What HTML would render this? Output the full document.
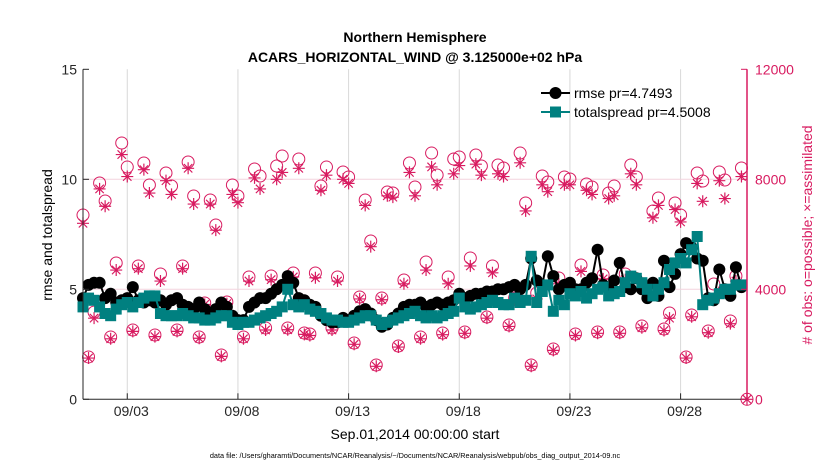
<!DOCTYPE html>
<html><head><meta charset="utf-8"><style>
body{margin:0;background:#fff;}
svg{display:block;font-family:"Liberation Sans",sans-serif;}
</style></head><body>
<svg id="chart" width="830" height="470" viewBox="0 0 830 470">
<rect width="830" height="470" fill="#fff"/>
<g id="grid"></g>
<g id="obs"></g>
<g id="lines"></g>
<g id="axes"></g>
<text x="415" y="42" text-anchor="middle" font-size="14" font-weight="bold">Northern Hemisphere</text>
<text x="415" y="62" text-anchor="middle" font-size="14" font-weight="bold">ACARS_HORIZONTAL_WIND @ 3.125000e+02 hPa</text>
<text transform="translate(52,235) rotate(-90)" text-anchor="middle" font-size="14">rmse and totalspread</text>
<text transform="translate(812,235) rotate(-90)" text-anchor="middle" font-size="14" fill="#d81b60"># of obs: o=possible; ×=assimilated</text>
<text x="415" y="439" text-anchor="middle" font-size="14">Sep.01,2014 00:00:00 start</text>
<text x="415" y="458" text-anchor="middle" font-size="7.3">data file: /Users/gharamti/Documents/NCAR/Reanalysis/~/Documents/NCAR/Reanalysis/webpub/obs_diag_output_2014-09.nc</text>
<g>
<g>
<line x1="541" y1="93" x2="570" y2="93" stroke="#000" stroke-width="2"/>
<circle cx="555.5" cy="93" r="6" fill="#000"/>
<text x="574" y="98" font-size="14">rmse pr=4.7493</text></g>
<g>
<line x1="541" y1="112" x2="570" y2="112" stroke="#008080" stroke-width="2"/>
<rect x="550" y="106.5" width="11" height="11" fill="#008080"/>
<text x="574" y="117" font-size="14">totalspread pr=4.5008</text></g>
</g>
</svg>
<script>
const rmse=[4.6,5.2,5.3,5.3,4.6,4.8,4.4,4.5,4.6,5.1,
4.5,4.4,4.5,4.4,4.5,4.3,4.5,4.6,4.3,4.2,
4.1,4.4,4.1,3.9,4.1,4.4,4.2,3.8,3.6,3.6,
4.2,4.4,4.6,4.6,4.8,5.0,5.2,5.6,5.3,4.6,
4.5,4.3,4.2,3.8,3.6,3.5,3.5,3.7,3.6,3.8,
4.0,4.1,3.9,3.6,3.3,3.4,3.7,3.9,4.2,4.3,
4.3,4.4,4.2,4.3,4.4,4.3,4.4,4.5,4.8,4.6,
4.7,4.8,4.8,4.9,4.9,5.0,5.0,5.1,5.2,5.0,
5.2,6.4,5.4,5.2,6.5,5.6,5.0,5.2,5.3,5.0,
5.0,5.3,5.5,6.8,5.2,5.0,5.4,6.2,5.1,5.0,
5.5,5.0,4.6,5.3,4.7,6.3,5.1,5.7,6.6,7.1,
6.9,6.4,6.3,4.6,4.5,5.9,5.0,4.7,6.0,5.1];
const spread=[4.2,4.6,4.5,4.2,3.9,3.8,4.1,4.3,4.4,4.2,
4.4,4.6,4.7,4.7,3.9,3.8,3.8,3.8,3.9,3.8,
3.7,3.7,3.6,3.6,3.7,3.8,3.8,3.5,3.4,3.5,
3.5,3.6,3.7,3.8,3.9,4.0,4.2,5.0,4.3,4.2,
4.3,4.1,4.0,3.9,3.7,3.6,3.6,3.5,3.5,3.6,
3.7,3.8,3.8,3.6,3.4,3.5,3.6,3.7,3.8,3.9,
4.0,3.8,3.7,3.8,3.7,3.8,3.9,4.0,4.6,4.2,
4.1,4.2,4.3,4.4,4.5,4.4,4.3,4.3,4.6,4.4,
4.5,6.5,4.4,4.9,5.2,4.0,4.5,4.3,4.8,4.7,
4.9,4.6,4.8,5.0,5.1,4.7,4.8,4.9,5.3,5.6,
5.5,5.3,5.0,4.7,5.0,5.3,5.9,6.2,6.4,6.2,
6.8,7.4,4.3,4.5,4.6,4.8,5.0,5.0,5.2,5.2];
const possible=[6700,1540,3170,7865,7210,2265,4956,9319,8446,2520,
4847,8592,7792,2338,4556,8228,7756,2520,4847,8628,
7392,2265,3501,7247,6338,1611,3538,7792,7392,2265,
4447,8374,8119,2592,4483,8483,8846,2592,4592,8737,
2411,2374,4592,7756,8446,2592,4447,8265,8083,2047,
3720,7247,5756,1247,3683,7537,7501,1938,4338,8592,
7719,2265,4992,8955,8156,2411,4447,8737,8810,2447,
5138,8883,8483,2992,4847,8519,8410,2702,3683,8955,
7137,1247,3865,8119,7901,1829,4411,8083,8010,2374,
4883,7828,7719,2447,4520,7501,7756,2447,4556,8519,
8083,2665,4120,6847,7319,2556,3138,7137,6701,1538,
3065,8228,7937,2483,4192,8265,7974,2847,4483,8410,0];
const assimilated=[6400,1500,2950,7650,7020,2200,4700,8900,8100,2470,
4750,8350,7500,2280,4300,7950,7450,2470,4750,8400,
7100,2220,3450,7100,6150,1560,3480,7450,7150,2200,
4300,8050,7650,2520,4350,8000,8250,2530,4450,8400,
2360,2320,4420,7600,8150,2520,4300,8000,7850,2000,
3650,7050,5550,1200,3620,7400,7350,1900,4200,8250,
7400,2200,4700,8450,7800,2350,4200,8200,8500,2400,
4850,8550,8150,2950,4600,8200,8100,2650,3600,8600,
6850,1200,3650,7800,7550,1780,4200,7800,7800,2320,
4650,7600,7450,2400,4380,7300,7400,2400,4350,8200,
7800,2600,3900,6600,7050,2500,2950,6900,6450,1500,
3000,7850,7200,2420,3650,7950,7300,2750,4300,8100,0];
const ticks=[2,7,12,17,22,27];
const tickLabels=['09/03','09/08','09/13','09/18','09/23','09/28'];
const leftTicks=[0,5,10,15];
const rightTicks=[0,4000,8000,12000];

const X0=83,DAY=22.133,Y0=399.3,YT=69.3;
const NS='http://www.w3.org/2000/svg';
function xAt(i){return X0+i*DAY/4;}
function xDay(d){return X0+d*DAY;}
function yL(v){return Y0-(v/15)*(Y0-YT);}
function yR(v){return Y0-(v/12000)*(Y0-YT);}
function mk(tag,attrs,parent){const e=document.createElementNS(NS,tag);for(const k in attrs)e.setAttribute(k,attrs[k]);parent.appendChild(e);return e;}
const grid=document.getElementById('grid'),obs=document.getElementById('obs'),lines=document.getElementById('lines'),axes=document.getElementById('axes');
const RED='#d81b60';
ticks.forEach(d=>{const g=mk('line',{x1:xDay(d),x2:xDay(d),y1:YT,y2:Y0,stroke:'#d8d8d8','stroke-width':1},grid);

});
rightTicks.slice(1,3).forEach(v=>{const g=mk('line',{x1:X0,x2:747,y1:yR(v),y2:yR(v),stroke:'#f3d3de','stroke-width':1},grid);

});
possible.forEach((v,i)=>{const c=mk('circle',{cx:xAt(i),cy:yR(v),r:6,fill:'none',stroke:RED,'stroke-width':1},obs);

});
assimilated.forEach((v,i)=>{const x=xAt(i),y=yR(v),s=6;
const g=mk('path',{d:`M${x-s} ${y}H${x+s}M${x} ${y-s}V${y+s}M${x-4.2} ${y-4.2}L${x+4.2} ${y+4.2}M${x-4.2} ${y+4.2}L${x+4.2} ${y-4.2}`,stroke:RED,'stroke-width':1.2,fill:'none'},obs);

});
const pr=mk('polyline',{points:rmse.map((v,i)=>xAt(i)+','+yL(v)).join(' '),fill:'none',stroke:'#000','stroke-width':2},lines);


rmse.forEach((v,i)=>{const c=mk('circle',{cx:xAt(i),cy:yL(v),r:6,fill:'#000'},lines);

});
const ps=mk('polyline',{points:spread.map((v,i)=>xAt(i)+','+yL(v)).join(' '),fill:'none',stroke:'#008080','stroke-width':2},lines);


spread.forEach((v,i)=>{const r=mk('rect',{x:xAt(i)-5.5,y:yL(v)-5.5,width:11,height:11,fill:'#008080'},lines);

});
const la=mk('line',{x1:X0,x2:X0,y1:YT,y2:Y0,stroke:'#262626','stroke-width':1},axes);


const ba=mk('line',{x1:X0,x2:747,y1:Y0,y2:Y0,stroke:'#262626','stroke-width':1},axes);


const ra=mk('line',{x1:747,x2:747,y1:YT,y2:Y0,stroke:RED,'stroke-width':1.5},axes);


ticks.forEach((d,k)=>{mk('line',{x1:xDay(d),x2:xDay(d),y1:Y0,y2:Y0-6,stroke:'#262626'},axes);
const t=mk('text',{x:xDay(d)+4,y:416,'text-anchor':'middle','font-size':14,fill:'#262626'},axes);t.textContent=tickLabels[k];

});
leftTicks.forEach(v=>{mk('line',{x1:X0,x2:X0+6,y1:yL(v),y2:yL(v),stroke:'#262626'},axes);
const t=mk('text',{x:X0-6,y:yL(v)+5,'text-anchor':'end','font-size':14,fill:'#262626'},axes);t.textContent=v;

});
rightTicks.forEach(v=>{mk('line',{x1:747,x2:741,y1:yR(v),y2:yR(v),stroke:RED},axes);
const t=mk('text',{x:755,y:yR(v)+5,'font-size':14,fill:RED},axes);t.textContent=v;

});
</script>
</body></html>
